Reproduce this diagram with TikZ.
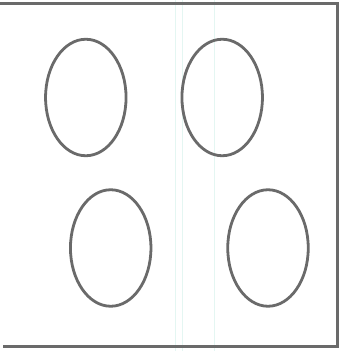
\documentclass[tikz,border=0pt]{standalone}
\usetikzlibrary{shapes.geometric}
\definecolor{strokegray}{HTML}{6A6A6A}
\definecolor{faintcyan}{HTML}{E4F6F2}
\begin{document}
\begin{tikzpicture}[x=1pt,y=1pt,
  hole/.style={ellipse,draw=strokegray,line width=2.8pt,minimum width=80.5pt,minimum height=116.5pt,inner sep=0pt},
  frame/.style={draw=strokegray,line width=3pt},
  scanline/.style={draw=faintcyan,line width=1pt}]
\useasboundingbox (0,0) rectangle (341,351);
\fill[white] (0,0) rectangle (341,351);
% faint scan lines
\coordinate (s1t) at (175,351); \coordinate (s1b) at (175,0);
\coordinate (s2t) at (182.7,351); \coordinate (s2b) at (182.7,0);
\coordinate (s3t) at (214.3,351); \coordinate (s3b) at (214.3,0);
\draw[scanline] (s1t) -- (s1b);
\draw[scanline] (s2t) -- (s2b);
\draw[scanline] (s3t) -- (s3b);
% frame
\coordinate (ftl) at (0,347.7);
\coordinate (ftr) at (337,347.7);
\coordinate (fbr) at (337,4.3);
\coordinate (fbl) at (3,4.3);
\draw[frame] (ftl) -- (ftr) -- (fbr) -- (fbl);
% ellipses
\node[hole] (tl) at (85.8,253.5) {};
\node[hole] (tr) at (222.2,253.5) {};
\node[hole] (bl) at (110.7,103) {};
\node[hole] (br) at (268,103) {};
\end{tikzpicture}
\end{document}
